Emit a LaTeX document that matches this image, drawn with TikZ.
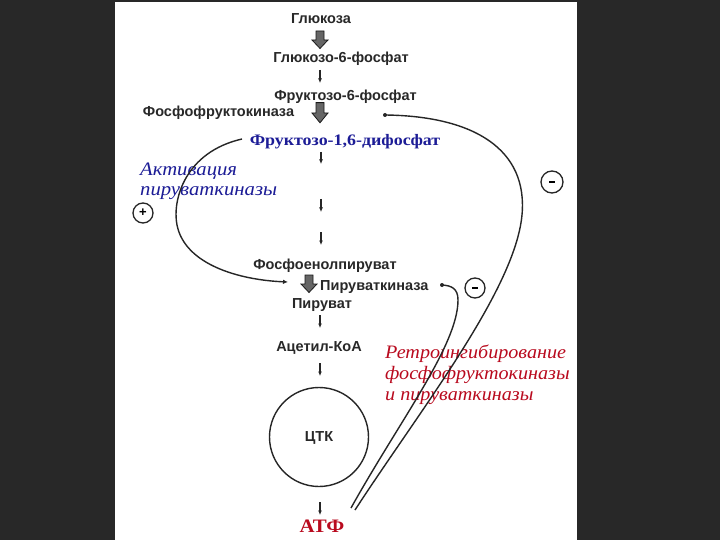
\documentclass[tikz,border=0pt]{standalone}
\usepackage{fontspec}
\setmainfont{Liberation Serif}
\newfontfamily\sansf{Liberation Sans}
\newfontfamily\wideserif[FakeStretch=1.12]{Liberation Serif}
\newfontfamily\wideserifit[FakeStretch=1.09]{Liberation Serif Italic}
\newfontfamily\widered[FakeStretch=1.06]{Liberation Serif Italic}
\newfontfamily\wideatp[FakeStretch=1.1]{Liberation Serif Bold}
\usetikzlibrary{arrows.meta}
\definecolor{bgdark}{RGB}{40,40,40}
\definecolor{txtgray}{RGB}{40,40,40}
\definecolor{dblue}{RGB}{28,28,150}
\definecolor{dred}{RGB}{185,10,30}
\tikzset{
  sans/.style={inner sep=0, anchor=base, text=txtgray, font=\sansf\bfseries\fontsize{14.5}{16}\selectfont},
  bluebold/.style={inner sep=0, anchor=base, text=dblue, font=\wideserif\bfseries\fontsize{16}{18}\selectfont},
  blueit/.style={inner sep=0, anchor=base west, text=dblue, font=\wideserifit\fontsize{19}{20}\selectfont},
  redit/.style={inner sep=0, anchor=base west, text=dred, font=\widered\fontsize{19}{21}\selectfont},
  smallarr/.style={draw=black!85, line width=1.1pt, -{Latex[length=4.5pt,width=4pt]}},
  curve/.style={draw=black!85, line width=1.4pt},
  sign/.style={circle, draw=black!85, line width=1.3pt, minimum size=20pt, inner sep=0, font=\sansf\bfseries\fontsize{13}{13}\selectfont},
  enzdot/.style={circle, fill=black!85, inner sep=0, minimum size=4pt},
  blockarrow/.pic={\draw[draw=black!90, fill=black!60, line width=0.8pt]
      (-4,-9) -- (4,-9) -- (4,0) -- (8,0) -- (0,8.5) -- (-8,0) -- (-4,0) -- cycle;}
}
\begin{document}
\begin{tikzpicture}[x=1pt,y=-1pt]
\useasboundingbox (0,0) rectangle (720,540);
\fill[bgdark] (0,0) rectangle (720,540);
\fill[white] (115,2) rectangle (577,540);

% metabolites
\node[sans] (glc) at (321,24) {Глюкоза};
\pic (ta1) at (320,40) {blockarrow};
\node[sans] (g6p) at (341,63) {Глюкозо-6-фосфат};
\node[sans] (f6p) at (345.5,101) {Фруктозо-6-фосфат};
\node[sans] (pfk) at (218.5,117) {Фосфофруктокиназа};
\pic[yscale=1.15] (ta2) at (320,113) {blockarrow};
\node[bluebold] (fbp) at (345,146) {Фруктозо-1,6-дифосфат};
\node[blueit] (act1) at (140,176) {Активация};
\node[blueit] (act2) at (140,196) {пируваткиназы};
\node[sans] (pep) at (325,269) {Фосфоенолпируват};
\pic (ta3) at (309,284) {blockarrow};
\node[sans, anchor=base west] (pk) at (320,290) {Пируваткиназа};
\node[sans] (pyr) at (322,308) {Пируват};
\node[sans] (acoa) at (319,351) {Ацетил-КоА};
\node[circle, draw=black!85, line width=1.4pt, minimum size=99pt, inner sep=0] (tca) at (319,437) {};
\node[sans] (tcalabel) at (319,441) {ЦТК};
\node[inner sep=0, anchor=base, text=dred, font=\wideatp\fontsize{19}{19}\selectfont] (atp) at (322,532) {АТФ};
\node[redit] (retro1) at (385,358) {Ретроингибирование};
\node[redit] (retro2) at (385,379) {фосфофруктокиназы};
\node[redit] (retro3) at (385,400) {и пируваткиназы};

% signs
\node[sign] (plus) at (143,213) {+};
\node[sign, minimum size=22pt] (minus1) at (552,182) {\raisebox{0.5pt}{\rule{6pt}{1.8pt}}};
\node[sign] (minus2) at (475,288) {\raisebox{0.5pt}{\rule{6pt}{1.8pt}}};

% small arrows
\draw[smallarr] (320,70) -- (320,83);
\draw[smallarr] (321,152) -- (321,164);
\draw[smallarr] (321,199) -- (321,212);
\draw[smallarr] (321,232) -- (321,245);
\draw[smallarr] (320,315) -- (320,328);
\draw[smallarr] (320,363) -- (320,376);
\draw[smallarr] (320,502) -- (320,515);

% enzyme dots and curve ends
\node[enzdot] (pfkdot) at (385,115) {};
\node[enzdot] (pkdot) at (442,285) {};
\coordinate (atpA) at (355,510);
\coordinate (atpB) at (351,508);
\coordinate (actstart) at (242,139);
\coordinate (actend) at (288,282);

% activation curve
\draw[curve, -{Latex[length=5pt,width=4.5pt]}] (actstart) .. controls (185,152) and (172,200) .. (177,225)
      .. controls (185,265) and (240,280) .. (actend);
% feedback inhibition curves
\draw[curve] (atpA) .. controls (420,410) and (515,290) .. (522,215)
      .. controls (528,150) and (475,116) .. (pfkdot.center);
\draw[curve] (atpB) .. controls (400,420) and (458,345) .. (458,300)
      .. controls (458,289) and (452,285.5) .. (pkdot.center);
\end{tikzpicture}
\end{document}
